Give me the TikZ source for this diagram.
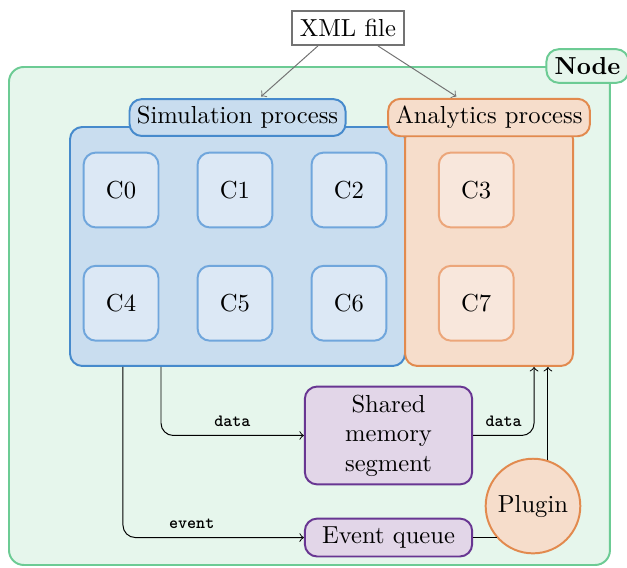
\documentclass[tikz,border=0pt]{standalone}
\usepackage{tikz}
\usetikzlibrary{arrows,positioning,shapes,backgrounds}
\definecolor{nodeline}{RGB}{108,203,148}
\definecolor{nodefill}{RGB}{230,246,236}
\definecolor{simline}{RGB}{70,138,204}
\definecolor{simfill}{RGB}{201,221,239}
\definecolor{coreline}{RGB}{112,166,220}
\definecolor{corefill}{RGB}{220,232,245}
\definecolor{anline}{RGB}{226,138,78}
\definecolor{anfill}{RGB}{246,221,203}
\definecolor{acoreline}{RGB}{236,166,122}
\definecolor{acorefill}{RGB}{248,231,220}
\definecolor{shmline}{RGB}{104,54,146}
\definecolor{shmfill}{RGB}{226,214,232}
\tikzset{>=to,node distance=0.53cm}
\tikzset{
    simcore/.style={draw=coreline,fill=corefill,thick,rounded corners=5pt,minimum size=1.07cm},
    ancore/.style={draw=acoreline,fill=acorefill,thick,rounded corners=5pt,minimum size=1.07cm},
    proctitle/.style={thick,rounded corners=5pt,minimum height=0.5cm,inner sep=3pt},
    ipc/.style={draw=shmline,fill=shmfill,thick,rounded corners=5pt,minimum width=2.39cm,align=center},
    msg/.style={font=\scriptsize\ttfamily\bfseries}
}

\begin{document}
\begin{tikzpicture}[auto]
    \useasboundingbox (0,0) rectangle (8.957,8.1);
    % node box
    \node[draw=nodeline,fill=nodefill,thick,rounded corners=6pt,minimum width=8.585cm,minimum height=7.114cm] (node) at (4.421,3.586) {};
    \node[draw=nodeline,fill=nodefill,thick,rounded corners=5pt] (nodelabel) at (8.393,7.157) {\textbf{Node}};
    % processes
    \node[draw=simline,fill=simfill,thick,rounded corners=5pt,minimum width=4.786cm,minimum height=3.414cm] (simbox) at (3.393,4.579) {};
    \node[draw=anline,fill=anfill,thick,rounded corners=5pt,minimum width=2.4cm,minimum height=3.414cm] (anbox) at (6.986,4.579) {};
    \node[proctitle,draw=simline,fill=simfill] (simtitle) at (3.393,6.421) {Simulation process};
    \node[proctitle,draw=anline,fill=anfill] (antitle) at (6.986,6.421) {Analytics process};
    \node[draw=black!55,thick] (xml) at (4.971,7.7) {XML file};
    % cores
    \node[simcore] (c0) at (1.729,5.386) {C0};
    \node[simcore] (c1) [right=of c0] {C1};
    \node[simcore] (c2) [right=of c1] {C2};
    \node[ancore] (c3) [right=0.72cm of c2] {C3};
    \node[simcore] (c4) [below=0.52cm of c0] {C4};
    \node[simcore] (c5) [right=of c4] {C5};
    \node[simcore] (c6) [right=of c5] {C6};
    \node[ancore] (c7) [right=0.72cm of c6] {C7};
    % ipc
    \node[ipc,minimum height=1.36cm] (shm) at (5.55,1.879) {Shared\\memory\\segment};
    \node[ipc,minimum height=0.53cm] (evq) at (5.55,0.421) {Event queue};
    \node[circle,draw=anline,fill=anfill,thick,minimum size=1.31cm] (plugin) at (7.614,0.871) {Plugin};
    \draw[->,black!55,shorten >=1pt] ([xshift=-0.43cm]xml.south) -- (simtitle);
    \draw[->,black!55,shorten >=1pt] ([xshift=0.43cm]xml.south) -- (antitle);
    \draw[->,rounded corners=5pt] ([xshift=1.314cm]simbox.south west) |- node[msg,pos=0.75] {data} (shm.west);
    \draw[->,rounded corners=5pt] ([xshift=0.771cm]simbox.south west) |- node[msg,pos=0.69] {event} (evq.west);
    \draw[->,rounded corners=5pt] (shm.east) -| node[msg,pos=0.25] {data} ([xshift=1.857cm]anbox.south west);
    \draw[->] (plugin.72) -- (plugin.72 |- anbox.south);
    \draw (evq.east) -- (evq.east -| plugin.222);
\end{tikzpicture}
\end{document}
